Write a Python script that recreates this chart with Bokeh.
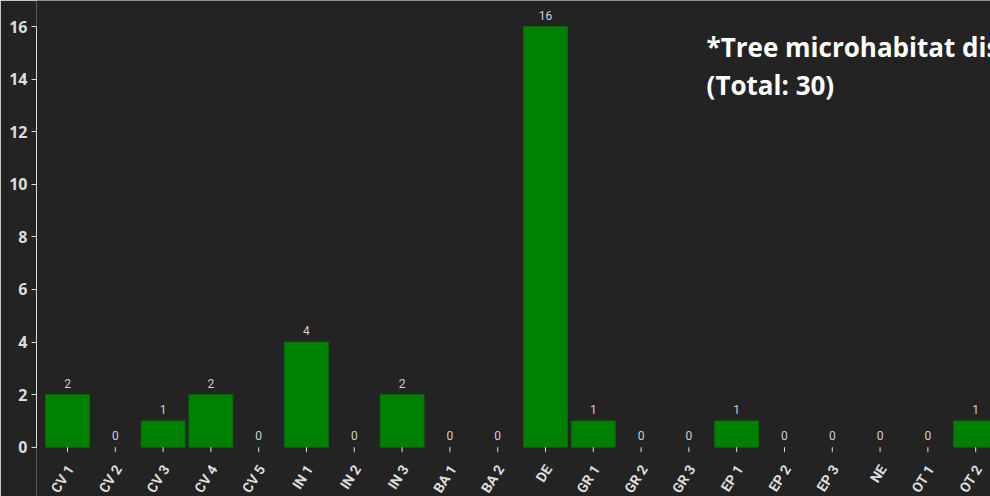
import math
from bokeh.plotting import figure
from bokeh.models import ColumnDataSource, Range1d, FixedTicker, LabelSet, Label, CDSView, BooleanFilter
from bokeh.core.properties import value
from bokeh.embed import file_html
from bokeh.resources import INLINE

categories = ["CV 1", "CV 2", "CV 3", "CV 4", "CV 5", "IN 1", "IN 2", "IN 3", "BA 1", "BA 2",
              "DE", "GR 1", "GR 2", "GR 3", "EP 1", "EP 2", "EP 3", "NE", "OT 1", "OT 2"]
counts = [2, 0, 1, 2, 0, 4, 0, 2, 0, 0, 16, 1, 0, 0, 1, 0, 0, 0, 0, 1]
y_ticks = [0, 2, 4, 6, 8, 10, 12, 14, 16]
title_line1 = "*Tree microhabitat distribution"
title_line2 = "(Total: 30)"

BG = "#232323"
FG = "#dddddd"

idx = list(range(len(categories)))
src = ColumnDataSource(dict(x=idx, top=counts, base=[0] * len(idx),
                            label=[str(c) for c in counts], cat=categories))

p = figure(width=990, height=496, output_backend="svg", toolbar_location=None,
           x_range=Range1d(-0.6485, 19.31), y_range=Range1d(-1.875, 16.99),
           min_border_left=36, min_border_right=0, min_border_top=0, min_border_bottom=0)
p.background_fill_color = BG
p.border_fill_color = BG
p.outline_line_color = None
p.grid.visible = False

nonzero = CDSView(filter=BooleanFilter([c > 0 for c in counts]))
p.vbar(x="x", top="top", bottom="base", width=0.92, source=src, view=nonzero,
       fill_color="#008000", line_color="#006a00", line_width=1)

labels = LabelSet(x="x", y="top", text="label", source=src, y_offset=7,
                  text_align="center", text_baseline="alphabetic",
                  text_color="#d0d0d0", text_font_size="12px", text_font=value("Roboto"))
p.add_layout(labels)

# category ticks and rotated labels below the zero line
p.ray(x="x", y="base", length=5, angle=-math.pi / 2, length_units="screen",
      source=src, line_color=FG, line_width=1)
p.text(x="x", y="base", text="cat", source=src, angle=1.0,
       text_align="right", text_baseline="middle", x_offset=3, y_offset=19,
       text_color=FG, text_font=value("Roboto"), text_font_style="bold", text_font_size="14px")

p.xaxis.visible = False

ya = p.yaxis[0]
ya.ticker = FixedTicker(ticks=y_ticks)
ya.bounds = (0, 16)
ya.axis_line_color = FG
ya.major_tick_line_color = FG
ya.major_tick_in = 0
ya.major_tick_out = 5
ya.minor_tick_line_color = None
ya.major_label_text_color = FG
ya.major_label_text_font = "Open Sans"
ya.major_label_text_font_style = "bold"
ya.major_label_text_font_size = "16px"
ya.major_label_standoff = 4

t1 = Label(x=13.37, y=15.21, text=title_line1, text_color="white", text_font="Open Sans",
           text_font_style="bold", text_font_size="26px", text_baseline="alphabetic")
t2 = Label(x=13.37, y=13.79, text=title_line2, text_color="white", text_font="Open Sans",
           text_font_style="bold", text_font_size="26px", text_baseline="alphabetic")
p.add_layout(t1)
p.add_layout(t2)

open("out.html", "w").write(file_html(p, INLINE))
